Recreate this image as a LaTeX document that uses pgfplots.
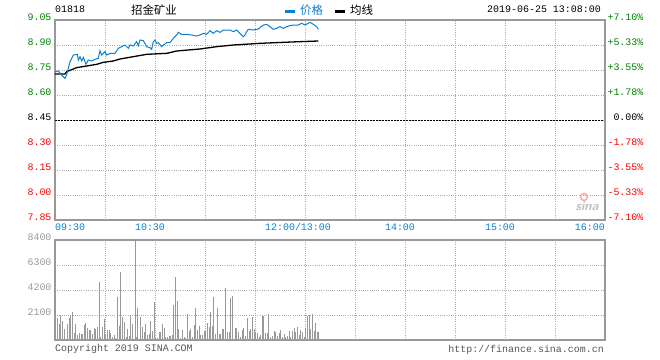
\documentclass[border=0pt]{standalone}
\usepackage{pgfplots}
\pgfplotsset{compat=1.18}
\usepackage{fontspec}
\setmainfont{Liberation Mono}
\newfontfamily\cjk{Noto Sans CJK SC}
\definecolor{pgreen}{HTML}{008000}
\definecolor{pred}{HTML}{FF0000}
\definecolor{pblue}{HTML}{0A80D0}
\definecolor{axgray}{HTML}{999999}
\definecolor{gridgray}{HTML}{AAAAAA}
\definecolor{txtgray}{HTML}{555555}
\newcommand{\tf}{\fontsize{10}{10}\selectfont}
\begin{document}
\begin{tikzpicture}
\useasboundingbox (0,0) rectangle (660bp,-360bp);
\pgfplotsset{
  common/.style={
    scale only axis, width=550bp, anchor=south west,
    xmin=0, xmax=330, xtick={0,30,...,330}, xticklabels={},
    grid=major, major grid style={draw=gridgray, line width=0.7bp, dash pattern=on 1bp off 1.2bp},
    axis line style={draw=axgray, line width=1.2bp},
    major tick length=0pt, tick style={draw=none},
    yticklabel style={font=\tf, yshift=3bp},
  }
}
% main price axis
\begin{axis}[common, at={(55bp,-220bp)}, height=200bp,
  ymin=7.85, ymax=9.05,
  ytick={7.85,8.00,8.15,8.30,8.45,8.60,8.75,8.90,9.05},
  yticklabels={{\color{pred}7.85},{\color{pred}8.00},{\color{pred}8.15},{\color{pred}8.30},{\color{black}8.45},{\color{pgreen}8.60},{\color{pgreen}8.75},{\color{pgreen}8.90},{\color{pgreen}9.05}},
  yticklabel style={anchor=east, xshift=0bp},
]
\addplot[black, line width=0.9bp, dash pattern=on 2bp off 1bp] coordinates {(0,8.45)(330,8.45)};
\addplot[black, line width=1.3bp] coordinates {
(0,8.726)(6,8.726)(7,8.74)(13,8.764)(19,8.774)(25,8.784)(29,8.796)(35,8.804)(39,8.816)(47,8.83)(55,8.844)(67,8.85)(73,8.864)(87,8.876)(97,8.89)(107,8.90)(123,8.91)(137,8.916)(147,8.92)(158,8.924)};
\addplot[pblue, line width=1bp] coordinates {
(0,8.74)(2,8.744)(4,8.72)(6,8.70)(7,8.72)(9,8.80)(11,8.84)(13.4,8.844)(14,8.81)(15,8.83)(16,8.804)(17,8.826)(18.6,8.784)(20,8.81)(22,8.804)(24,8.814)(26,8.82)(27,8.866)(28,8.84)(30,8.86)(31,8.84)(33,8.85)(36,8.85)(38,8.88)(40,8.89)(42,8.90)(44,8.88)(45,8.90)(47,8.894)(49,8.92)(50,8.896)(51,8.93)(53,8.926)(55,8.89)(57,8.884)(58,8.874)(59,8.92)(60,8.93)(61,8.91)(62,8.914)(64,8.89)(65,8.90)(67,8.914)(69,8.914)(71,8.94)(73,8.96)(74,8.976)(76,8.964)(79,8.964)(82,8.96)(85,8.954)(87,8.96)(89,8.97)(91,8.964)(93,8.986)(95,8.97)(97,8.986)(99,8.976)(101,8.99)(105,8.99)(107,8.98)(109,8.99)(111,8.97)(113,8.95)(114,8.96)(115,8.98)(116,8.994)(119,8.99)(122,8.996)(125,9.02)(127,9.024)(129,9.01)(131,8.994)(133,9.00)(135,9.01)(137,9.00)(139,9.01)(141,9.016)(143,9.02)(146,9.02)(148,9.03)(150,9.02)(153,9.036)(155,9.024)(157,9.01)(158,8.994)};
\end{axis}
% right percent axis
\begin{axis}[scale only axis, width=550bp, height=200bp, anchor=south west, at={(55bp,-220bp)},
  xmin=0, xmax=330, ymin=-7.10, ymax=7.10,
  axis y line*=right, axis x line=none,
  axis line style={draw=axgray, line width=1.2bp},
  major tick length=0pt, tick style={draw=none},
  ytick={-7.10,-5.33,-3.55,-1.78,0,1.78,3.55,5.33,7.10},
  yticklabels={{\color{pred}-7.10\%},{\color{pred}-5.33\%},{\color{pred}-3.55\%},{\color{pred}-1.78\%},{\color{black}\phantom{+}0.00\%},{\color{pgreen}+1.78\%},{\color{pgreen}+3.55\%},{\color{pgreen}+5.33\%},{\color{pgreen}+7.10\%}},
  yticklabel style={font=\tf, anchor=west, yshift=3bp, xshift=-1bp},
]
\addplot[draw=none] coordinates {(0,0)};
\end{axis}
% volume axis
\begin{axis}[common, at={(55bp,-340bp)}, height=100bp,
  ymin=0, ymax=8400, ytick={2100,4200,6300,8400},
  yticklabels={2100,4200,6300,8400},
  yticklabel style={anchor=east, text=axgray},
]
\addplot[ycomb, draw=axgray, line width=1bp, mark=none] coordinates {
(1.4,1820)(2.6,1344)(3.2,2072)(4.4,1624)(5.6,924)(7.4,1316)(8.6,1820)(9.4,2044)(10.4,2324)(11.6,560)(12.4,1316)(13.4,420)(14.6,560)(15.6,504)(16.4,476)(17.6,1232)(18.4,1400)(19.4,1036)(20.4,840)(21.4,840)(22.4,476)(23.6,1036)(24.4,896)(25.4,1120)(26.6,4900)(27.2,280)(28.4,1120)(29.6,1764)(30.2,504)(31.4,840)(32.4,840)(33.4,560)(34.4,280)(35.4,420)(36.4,140)(37.4,3640)(38.6,1176)(39.2,5740)(40.4,1960)(41.6,1540)(42.6,280)(43.4,924)(44.6,364)(45.4,2072)(46.4,1344)(48,8400)(48.6,280)(49.4,2688)(51,1960)(52.4,1120)(53.4,700)(54.4,1344)(55.6,420)(56.4,476)(57.4,1624)(58.4,784)(59.6,3220)(60.4,280)(61.4,140)(62.4,700)(63.4,700)(64.4,1316)(65.4,980)(66.4,224)(67.4,280)(68.4,336)(69.4,364)(70.4,420)(71,2940)(72,5320)(73.4,3276)(74,952)(75,140)(76.4,840)(77.4,280)(78.4,140)(79.4,2184)(80.4,784)(81.4,924)(82.4,280)(83.4,1260)(84.4,2716)(85.4,840)(86.4,1176)(87.4,420)(88.4,420)(89.4,756)(90.4,784)(91.4,1400)(92.4,1064)(93.4,2352)(94.4,1204)(95,3640)(96,504)(97.4,2688)(98.4,504)(99.4,504)(100.4,924)(101,924)(102.4,4340)(103.4,700)(104.4,700)(105.4,3556)(106.6,3696)(108,1036)(109,1036)(110,700)(111,280)(112.4,840)(113,980)(114.4,336)(115.4,1820)(116.4,784)(117.4,896)(118.4,1904)(119.4,924)(120.4,700)(121.4,560)(122.4,280)(123.4,420)(124.6,2016)(125,2016)(126.4,616)(127.4,616)(128,2156)(129.4,224)(130.4,336)(131.4,784)(132.4,700)(133.4,336)(134.4,560)(135.4,840)(136.4,280)(137.4,504)(138.4,280)(139.4,336)(140.4,784)(141.4,280)(142.4,756)(143.4,980)(144.4,700)(145.6,1064)(146.4,420)(147.4,840)(148.4,644)(149.4,224)(150.4,1036)(151.4,2016)(152.4,2072)(153.4,924)(154.4,2184)(155.4,784)(156.4,1400)(157.4,700)(158,700)};
\end{axis}
% time labels
\begin{scope}[every node/.style={font=\tf, text=pblue, inner sep=0pt}]
\node[anchor=west] at (55bp,-227bp) {09:30};
\node at (150bp,-227bp) {10:30};
\node at (298bp,-227bp) {12:00/13:00};
\node at (400bp,-227bp) {14:00};
\node at (500bp,-227bp) {15:00};
\node[anchor=east] at (605bp,-227bp) {16:00};
\end{scope}
% header
\node[font=\tf, anchor=west, inner sep=0pt] at (55bp,-9bp) {01818};
\node[font=\cjk\fontsize{11.5}{12}\selectfont, inner sep=0pt] at (154bp,-10bp) {招金矿业};
\fill[pblue] (285bp,-9.5bp) rectangle (295bp,-12.5bp);
\node[font=\cjk\fontsize{11.5}{12}\selectfont, text=pblue, anchor=west, inner sep=0pt] at (300bp,-10bp) {价格};
\fill[black] (335bp,-9.5bp) rectangle (345bp,-12.5bp);
\node[font=\cjk\fontsize{11.5}{12}\selectfont, anchor=west, inner sep=0pt] at (350bp,-10bp) {均线};
\node[font=\tf, anchor=east, inner sep=0pt] at (601bp,-9bp) {2019-06-25 13:08:00};
% footer
\node[font=\tf, text=txtgray, anchor=west, inner sep=0pt] at (55bp,-349bp) {Copyright 2019 SINA.COM};
\node[font=\tf, text=txtgray, anchor=east, inner sep=0pt] at (604bp,-350bp) {http://finance.sina.com.cn};
% watermark
\node[font=\sffamily\bfseries\itshape\fontsize{13}{13}\selectfont, text=gray!50, inner sep=0pt] at (587bp,-206bp) {sina};
\draw[red!35, line width=1.5bp] (584bp,-197bp) circle (3.5bp);
\end{tikzpicture}
\end{document}
